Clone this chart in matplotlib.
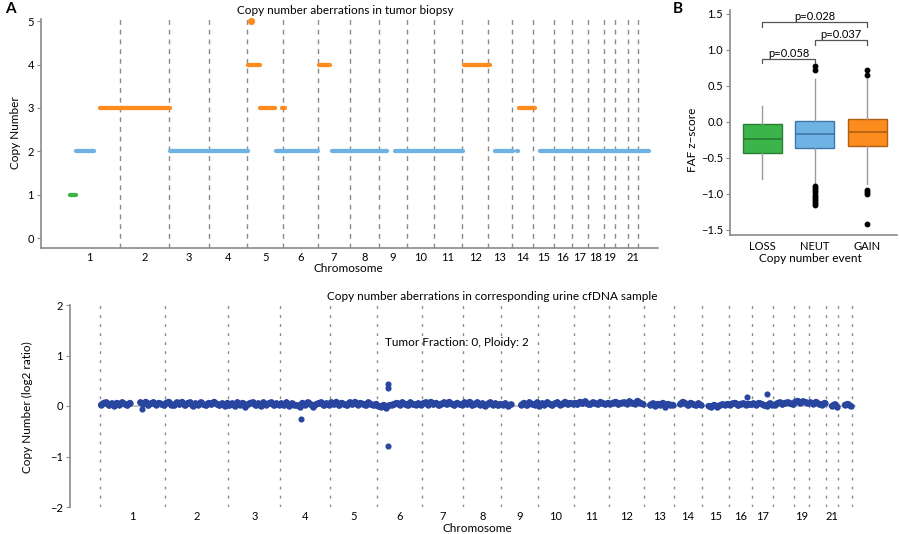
import numpy as np
import matplotlib
matplotlib.use("Agg")
import matplotlib.pyplot as plt

plt.rcParams['font.family'] = ['Lato', 'DejaVu Sans']

# chromosome sizes in Mb (hg19)
chrom_names = [str(i) for i in range(1, 23)]
chrom_mb = [249, 243, 198, 191, 181, 171, 159, 146, 141, 136, 135, 134,
            115, 107, 103, 90, 81, 78, 59, 63, 48, 51]
# the biopsy plot draws chromosome 1 wider than the rest
biopsy_mb = [310] + chrom_mb[1:]
top_hidden = ['20', '22']
bottom_hidden = ['18', '20', '22']

# biopsy segments: (start Mb, end Mb, copy number), genome-wide coordinates
loss_segs = [(60, 90, 1)]
neut_segs = [(90, 179, 2), (558, 947, 2), (1086, 1295, 2), (1365, 1639, 2),
             (1679, 2018, 2), (2177, 2267, 2), (2288, 2294, 2), (2402, 2945, 2)]
gain_segs = [(209, 558, 3), (947, 1006, 4), (1006, 1081, 3), (1116, 1131, 3),
             (1300, 1355, 4), (2023, 2152, 4), (2297, 2377, 3)]
gain_points = [(963, 5)]

# FAF z-score box statistics
box_labels = ['LOSS', 'NEUT', 'GAIN']
box_med = [-0.24, -0.17, -0.14]
box_q1 = [-0.43, -0.36, -0.34]
box_q3 = [-0.03, 0.01, 0.04]
box_lo = [-0.80, -0.88, -0.86]
box_hi = [0.22, 0.60, 0.60]
box_fliers = [[],
              [0.78, 0.72, -0.89, -0.92, -0.95, -0.98, -1.01, -1.04, -1.07, -1.10, -1.13, -1.16],
              [0.72, 0.65, -0.94, -0.97, -1.00, -1.42]]
p_pairs = [(1, 2, 0.87, 'p=0.058'), (2, 3, 1.13, 'p=0.037'), (1, 3, 1.38, 'p=0.028')]

# urine cfDNA log2 ratios (x100), 10 Mb bins per chromosome, x = no data
cfdna = {
    '1': "2 6 7 1 5 0 6 2 7 4 1 6 x x x 7 3 8 1 5 7 2 6 4 1",
    '2': "6 8 2 1 7 3 8 1 5 7 0 5 2 7 3 1 6 3 8 4 1 5 0 6",
    '3': "1 5 0 7 2 6 -1 3 6 7 1 5 0 7 2 5 7 1 5 2",
    '4': "5 1 7 0 5 2 1 -1 6 2 7 4 -1 3 5 7 1 5 2",
    '5': "7 3 8 1 6 3 1 7 3 8 2 6 4 1 7 3 1 4",
    '6': "0 -2 2 -3 1 2 4 6 2 7 4 1 7 3 2 5 2",
    '7': "5 7 2 8 3 6 1 4 7 3 8 4 1 6 3 2",
    '8': "7 3 8 1 4 7 2 5 0 4 7 2 5 1 4",
    '9': "2 5 0 3 x x x 2 6 1 7 4 2 7",
    '10': "0 5 2 7 4 1 5 7 2 4 8 3 6 4",
    '11': "6 3 8 5 9 4 3 7 5 3 8 5 3 6",
    '12': "4 6 8 3 6 7 4 9 6 4 10 6 4",
    '13': "x x 2 5 0 4 2 6 -1 4 2 2",
    '14': "x x 4 8 5 1 6 3 1 5 2",
    '15': "x x 0 -2 2 -1 1 3 2 4",
    '16': "2 5 6 1 4 5 2 4 3",
    '17': "5 2 6 4 1 0 5 2",
    '18': "2 5 7 3 6 7 5 3",
    '19': "8 10 6 9 7 5",
    '20': "7 4 8 4 2 6",
    '21': "x x 0 3 -1",
    '22': "x x 2 4 0",
}
# single outlying bins: (chromosome, Mb within chromosome, log2 ratio)
cfdna_outliers = [('1', 161, -0.06), ('4', 79, -0.25), ('6', 41, 0.44),
                  ('6', 41, 0.36), ('6', 41, -0.80), ('16', 68, 0.17),
                  ('17', 55, 0.23)]

c_green, c_blue, c_orange = '#3bb44a', '#6fb3e4', '#fd8c1e'
e_green, e_blue, e_orange = '#2a7d34', '#3c77a8', '#b05e12'
grey = '#8a8a8a'
dot_blue = '#2845a0'

fig = plt.figure(figsize=(9, 5.34), dpi=100)
W, H = 900, 534


def box(l, t, r, b):
    return [l / W, 1 - b / H, (r - l) / W, (b - t) / H]


# ---------------- A: tumor biopsy ----------------
ax = fig.add_axes(box(41, 19, 658, 248))
starts = np.concatenate([[0], np.cumsum(biopsy_mb)[:-1]])
ends = np.cumsum(biopsy_mb)
for s in starts[1:]:
    ax.axvline(s, color=grey, lw=1, ls=(0, (3.5, 3.5)), zorder=1)
for segs, col in [(neut_segs, c_blue), (gain_segs, c_orange), (loss_segs, c_green)]:
    for s, e, cn in segs:
        ax.plot([s, e], [cn, cn], color=col, lw=3.1, solid_capstyle='round', zorder=3)
for x, cn in gain_points:
    ax.plot(x, cn, 'o', color=c_orange, ms=4.2, zorder=3, clip_on=False)
ax.set_xlim(-85, 2990)
ax.set_ylim(-0.23, 5.05)
ax.set_yticks(range(6))
mids = (starts + ends) / 2
ax.set_xticks([m for m, n in zip(mids, chrom_names) if n not in top_hidden])
ax.set_xticklabels([n for n in chrom_names if n not in top_hidden])
ax.tick_params(axis='x', length=0, pad=3, labelsize=8)
ax.tick_params(axis='y', length=3, pad=2, labelsize=8, color=grey)
for sp in ['top', 'right']:
    ax.spines[sp].set_visible(False)
for sp in ['left', 'bottom']:
    ax.spines[sp].set_color(grey)
    ax.spines[sp].set_linewidth(1.2)
fig.text(345 / W, 1 - 10 / H, 'Copy number aberrations in tumor biopsy', ha='center', va='center', fontsize=8.5)
fig.text(348 / W, 1 - 269 / H, 'Chromosome', ha='center', va='center', fontsize=8.5)
fig.text(16 / W, 1 - 133 / H, 'Copy Number', ha='center', va='center', rotation=90, fontsize=8.5)
fig.text(10 / W, 1 - 9 / H, 'A', ha='center', va='center', fontsize=11, fontweight='bold')
fig.text(678 / W, 1 - 9 / H, 'B', ha='center', va='center', fontsize=11, fontweight='bold')

# ---------------- B: FAF z-score boxplot ----------------
bx = fig.add_axes(box(730, 10, 897, 235))
stats = []
for i in range(3):
    stats.append(dict(med=box_med[i], q1=box_q1[i], q3=box_q3[i], whislo=box_lo[i],
                      whishi=box_hi[i], fliers=box_fliers[i], label=box_labels[i]))
res = bx.bxp(stats, positions=[1, 2, 3], widths=0.74, patch_artist=True, showcaps=False,
             whiskerprops=dict(color='#9a9a9a', lw=1),
             flierprops=dict(marker='o', markerfacecolor='black', markeredgecolor='black', markersize=3.2))
for patch, fc, ec in zip(res['boxes'], [c_green, c_blue, c_orange], [e_green, e_blue, e_orange]):
    patch.set_facecolor(fc)
    patch.set_edgecolor(ec)
    patch.set_linewidth(1)
for med, ec in zip(res['medians'], [e_green, e_blue, e_orange]):
    med.set_color(ec)
    med.set_linewidth(1.2)
for a, b, y, txt in p_pairs:
    bx.plot([a, a, b, b], [y - 0.06, y, y, y - 0.06], color='#555555', lw=0.9)
    bx.text((a + b) / 2, y + 0.005, txt, ha='center', va='bottom', fontsize=8)
bx.set_xlim(0.38, 3.57)
bx.set_ylim(-1.57, 1.55)
bx.set_yticks([-1.5, -1.0, -0.5, 0.0, 0.5, 1.0, 1.5])
bx.set_yticklabels(['\u22121.5', '\u22121.0', '\u22120.5', '0.0', '0.5', '1.0', '1.5'])
bx.tick_params(axis='x', length=0, pad=4, labelsize=8)
bx.tick_params(axis='y', length=3, pad=2, labelsize=8, color=grey)
for sp in ['top', 'right']:
    bx.spines[sp].set_visible(False)
for sp in ['left', 'bottom']:
    bx.spines[sp].set_color(grey)
    bx.spines[sp].set_linewidth(1.2)
fig.text(692 / W, 1 - 140 / H, 'FAF z\u2212score', ha='center', va='center', rotation=90, fontsize=8.5)
fig.text(810 / W, 1 - 259 / H, 'Copy number event', ha='center', va='center', fontsize=8.5)

# ---------------- C: urine cfDNA ----------------
cx = fig.add_axes(box(70, 305, 880, 507))
cstarts = np.concatenate([[0], np.cumsum(chrom_mb)[:-1]])
cends = np.cumsum(chrom_mb)
for s in list(cstarts) + [cends[-1]]:
    cx.axvline(s, color=grey, lw=1, ls=(0, (2, 4.5)), zorder=1)
cx.plot([0, cends[-1] + 15], [0, 0], color='#bdbdbd', lw=1.2, zorder=2)
for name, s, length in zip(chrom_names, cstarts, chrom_mb):
    vals = np.array([np.nan if v == 'x' else float(v) / 100 for v in cfdna[name].split()])
    pos = s + np.linspace(4, length - 4, len(vals))
    cx.plot(pos, vals, color=dot_blue, lw=4.6, solid_joinstyle='round',
            solid_capstyle='round', zorder=3)
    cx.plot(pos, vals, 'o', color=dot_blue, ms=3.6, zorder=3)
for name, mb, v in cfdna_outliers:
    i = chrom_names.index(name)
    cx.plot(cstarts[i] + mb, v, 'o', color=dot_blue, ms=3.4, zorder=4)
cx.set_xlim(-115, 2988)
cx.set_ylim(-2, 2)
cx.set_yticks([-2, -1, 0, 1, 2])
cx.set_yticklabels(['\u22122', '\u22121', '0', '1', '2'])
cmids = (cstarts + cends) / 2
cx.set_xticks([m for m, n in zip(cmids, chrom_names) if n not in bottom_hidden])
cx.set_xticklabels([n for n in chrom_names if n not in bottom_hidden])
cx.tick_params(axis='x', length=0, pad=3, labelsize=8)
cx.tick_params(axis='y', length=3, pad=2, labelsize=8, color=grey)
for sp in ['top', 'right', 'bottom']:
    cx.spines[sp].set_visible(False)
cx.spines['left'].set_color(grey)
cx.spines['left'].set_linewidth(1.2)
fig.text(492 / W, 1 - 296 / H, 'Copy number aberrations in corresponding urine cfDNA sample',
         ha='center', va='center', fontsize=8.5)
fig.text(457 / W, 1 - 342 / H, 'Tumor Fraction: 0, Ploidy: 2', ha='center', va='center', fontsize=8.5)
fig.text(27 / W, 1 - 407 / H, 'Copy Number (log2 ratio)', ha='center', va='center', rotation=90, fontsize=8.5)
fig.text(477 / W, 1 - 528 / H, 'Chromosome', ha='center', va='center', fontsize=8.5)

fig.savefig('out.png', dpi=100)
